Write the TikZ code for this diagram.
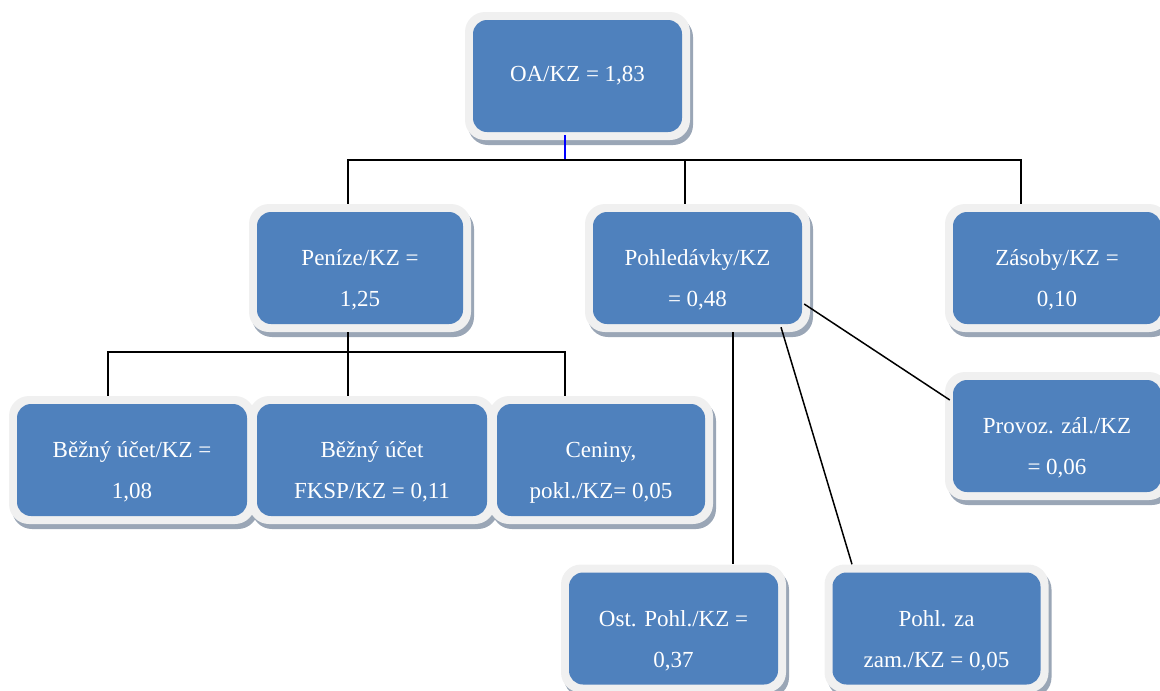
\documentclass[tikz,border=0pt]{standalone}
\usepackage{fontspec}
\setmainfont{Liberation Serif}
\usetikzlibrary{shadows, calc}
\definecolor{boxblue}{HTML}{4F81BD}
\definecolor{boxrim}{HTML}{F0F0F0}
\definecolor{rimshadow}{HTML}{9AA6B6}
\tikzset{
    x=1pt, y=-1pt, % pixel-like units, y grows downwards
    ratio/.style={rounded corners=20pt, fill=boxrim, minimum width=225pt, minimum height=128pt,
        text=white, align=center, font=\fontsize{23}{41}\selectfont,
        drop shadow={shadow xshift=3pt, shadow yshift=-5pt, fill=rimshadow, opacity=1},
        path picture={\fill[boxblue, rounded corners=14pt]
            ([shift={(8pt,8pt)}]path picture bounding box.south west) rectangle
            ([shift={(-8pt,-8pt)}]path picture bounding box.north east);}}, % light rim, blue inside
    tworow/.style={ratio, text height=81pt}, % two lines of text
    link/.style={line width=1.5pt, black}, % tree lines
}
\begin{document}
\begin{tikzpicture}
\useasboundingbox (0,0) rectangle (1160,691);
\node[ratio] (oa) at (577.5,76) {OA/KZ = 1,83};
\node[tworow, minimum width=222pt] (penize) at (360,268) {Peníze/KZ =\\ 1,25};
\node[tworow] (pohl) at (697.5,268) {Pohledávky/KZ\\ = 0,48};
\node[tworow, minimum width=224pt] (zasoby) at (1057,268) {Zásoby/KZ =\\ 0,10};
\node[tworow, minimum width=246pt] (bu) at (132,460) {Běžný účet/KZ =\\ 1,08};
\node[tworow, minimum width=246pt] (fksp) at (372,460) {Běžný účet\\ FKSP/KZ = 0,11};
\node[tworow, minimum width=224pt] (ceniny) at (601,460) {Ceniny,\\ pokl./KZ= 0,05};
\node[tworow, minimum width=224pt] (provoz) at (1057,436) {Provoz. zál./KZ\\ = 0,06};
\node[tworow] (ost) at (673.5,628.5) {Ost. Pohl./KZ =\\ 0,37};
\node[tworow, minimum width=224pt] (zam) at (936.5,628.5) {Pohl. za\\ zam./KZ = 0,05};
% first level
\coordinate (top) at (565,160);
\coordinate (l1) at (348,160);
\coordinate (l2) at (685,160);
\coordinate (l3) at (1021,160);
\coordinate (ob) at ($(oa.south)+(0,-5)$);
\draw[blue, line width=1.5pt] (top |- ob) -- (top);
\draw[link] (l1 |- penize.north) -- (l1) -- (l3) -- (l3 |- zasoby.north);
\draw[link] (l2) -- (l2 |- pohl.north);
% under Penize
\coordinate (m1) at (108,352);
\coordinate (m2) at (348,352);
\coordinate (m3) at (565,352);
\draw[link] (m2 |- penize.south) -- (m2 |- fksp.north);
\draw[link] (m1 |- bu.north) -- (m1) -- (m3) -- (m3 |- ceniny.north);
% under Pohledavky
\coordinate (p1) at (733,0);
\draw[link] (p1 |- pohl.south) -- (p1 |- ost.north);
\draw[link] ($(pohl.south)+(83.5,-5)$) -- ($(zam.north)+(-84.5,0)$);
\draw[link] ($(pohl.east)+(-6,36)$) -- ($(provoz.west)+(5,-36)$);
\end{tikzpicture}
\end{document}
